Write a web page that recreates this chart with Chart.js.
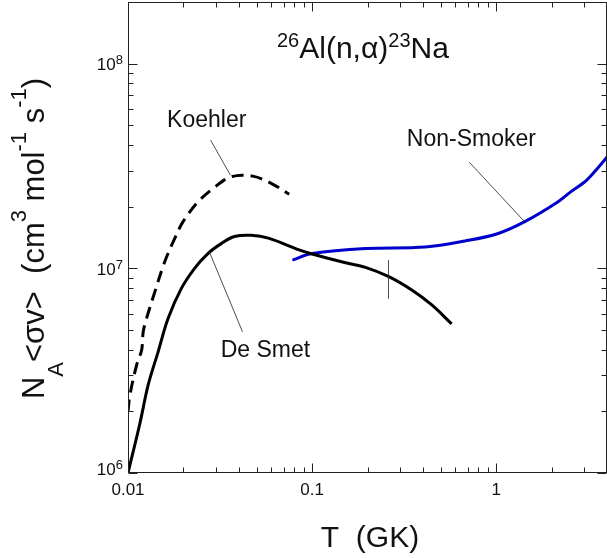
<!DOCTYPE html>
<html>
<head>
<meta charset="utf-8">
<script src="https://cdn.jsdelivr.net/npm/chart.js@4.4.1/dist/chart.umd.min.js"></script>
<style>
  html, body { margin: 0; padding: 0; background: #fff; overflow: hidden; }
  canvas { display: block; }
</style>
</head>
<body>
<canvas id="rate" width="607" height="558"></canvas>
<script>
// 26Al(n,a)23Na rates (T in GK, rate in cm3 mol-1 s-1)
const deSmetT = [0.01, 0.01161, 0.01288, 0.01459, 0.01652, 0.0195, 0.0230, 0.02716, 0.03209, 0.03789, 0.0466, 0.0585, 0.085, 0.1, 0.152, 0.195, 0.261, 0.348, 0.447, 0.573];
const deSmetRate = [1.0e6, 1.75e6, 2.70e6, 3.92e6, 5.70e6, 7.98e6, 1.0e7, 1.18e7, 1.32e7, 1.43e7, 1.45e7, 1.40e7, 1.23e7, 1.175e7, 1.064e7, 1.01e7, 9.1e6, 7.83e6, 6.62e6, 5.35e6];

const koehlerT = [0.01, 0.01025, 0.01114, 0.01186, 0.0121, 0.01262, 0.014, 0.01585, 0.01795, 0.01991, 0.02399, 0.02891, 0.03635, 0.0476, 0.061, 0.0751];
const koehlerRate = [2.0e6, 2.41e6, 3.37e6, 3.99e6, 4.91e6, 5.70e6, 7.69e6, 1.08e7, 1.40e7, 1.69e7, 2.11e7, 2.45e7, 2.80e7, 2.82e7, 2.58e7, 2.3e7];

const nonSmokerT = [0.0782, 0.1, 0.195, 0.412, 0.678, 1.025, 1.43, 2.16, 2.55, 3.02, 3.42, 3.87, 4.0];
const nonSmokerRate = [1.097e7, 1.18e7, 1.25e7, 1.27e7, 1.36e7, 1.48e7, 1.69e7, 2.11e7, 2.37e7, 2.64e7, 2.96e7, 3.37e7, 3.5e7];

const xTickValues = [0.01, 0.1, 1];
const xTickLabels = ['0.01', '0.1', '1'];
const yTickValues = [1e6, 1e7, 1e8];
const yTickExps = ['6', '7', '8'];

// curve labels and their leader lines, in data coordinates
const labelText = ['Koehler', 'De Smet', 'Non-Smoker'];
const labelT = [0.0163, 0.0319, 0.327];
const labelRate = [4.9e7, 3.69e6, 3.95e7];
const leaderFromT = [0.0281, 0.0277, 0.714];
const leaderFromRate = [4.23e7, 1.2e7, 3.3e7];
const leaderToT = [0.036, 0.0419, 1.435];
const leaderToRate = [2.85e7, 4.89e6, 1.68e7];
// short vertical bar on the De Smet curve
const markT = 0.258;
const markRate = [1.1e7, 7.1e6];

const FONT = '"Liberation Sans", Arial, Helvetica, sans-serif';

function pts(xs, ys) {
  return xs.map((x, i) => ({ x: x, y: ys[i] }));
}

// draws pieces of text with sizes / baseline shifts (for super/subscripts)
function richWidth(ctx, parts) {
  let w = 0;
  parts.forEach(p => {
    ctx.font = p.size + 'px ' + FONT;
    w += ctx.measureText(p.text).width;
  });
  return w;
}
function drawRich(ctx, parts, x, y) {
  let cx = x;
  parts.forEach(p => {
    ctx.font = p.size + 'px ' + FONT;
    ctx.fillText(p.text, cx, y + (p.dy || 0));
    cx += ctx.measureText(p.text).width;
  });
}

const framePlugin = {
  id: 'frame',
  afterDraw(chart) {
    const ctx = chart.ctx;
    const a = chart.chartArea;
    const xs = chart.scales.x;
    const ys = chart.scales.y;
    const L = Math.round(a.left) + 0.5, R = Math.round(a.right) - 0.5;
    const T = Math.round(a.top) + 0.5, B = Math.round(a.bottom) - 0.5;

    ctx.save();
    ctx.strokeStyle = '#222';
    ctx.lineWidth = 1;
    ctx.strokeRect(L, T, R - L, B - T);

    // inward ticks on all four sides
    ctx.beginPath();
    [0.01, 0.1, 1].forEach(d => {
      for (let k = 1; k <= 9; k++) {
        const v = k * d;
        if (v > xs.max) break;
        const px = Math.round(xs.getPixelForValue(v)) + 0.5;
        const len = k === 1 ? 9 : 5;
        ctx.moveTo(px, B); ctx.lineTo(px, B - len);
        ctx.moveTo(px, T); ctx.lineTo(px, T + len);
      }
    });
    [1e6, 1e7, 1e8].forEach(d => {
      for (let k = 1; k <= 9; k++) {
        const v = k * d;
        if (v > ys.max) break;
        const py = Math.round(ys.getPixelForValue(v)) + 0.5;
        const len = k === 1 ? 9 : 5;
        ctx.moveTo(L, py); ctx.lineTo(L + len, py);
        ctx.moveTo(R, py); ctx.lineTo(R - len, py);
      }
    });
    ctx.stroke();

    ctx.fillStyle = '#111';
    // x tick labels
    ctx.font = '17px ' + FONT;
    ctx.textAlign = 'center';
    ctx.textBaseline = 'alphabetic';
    xTickValues.forEach((v, i) => {
      ctx.fillText(xTickLabels[i], xs.getPixelForValue(v), a.bottom + 22);
    });
    // y tick labels 10^n
    ctx.textAlign = 'left';
    yTickValues.forEach((v, i) => {
      const parts = [{ text: '10', size: 17 }, { text: yTickExps[i], size: 13, dy: -6 }];
      const w = richWidth(ctx, parts);
      let py = ys.getPixelForValue(v) + 6.5;
      if (i === 0) py -= 5;
      drawRich(ctx, parts, a.left - 5 - w, py);
    });

    // reaction title
    const title = [
      { text: '26', size: 20, dy: -11 },
      { text: 'Al(n,\u03b1)', size: 30 },
      { text: '23', size: 20, dy: -11 },
      { text: 'Na', size: 30 }
    ];
    drawRich(ctx, title, 277, 58);

    // x axis title
    ctx.font = '30px ' + FONT;
    ctx.textAlign = 'center';
    ctx.fillText('T  (GK)', 370, 547);

    // y axis title, rotated
    ctx.textAlign = 'left';
    const yTitle = [
      { text: 'N', size: 31 },
      { text: 'A', size: 22, dy: 19 },
      { text: '<\u03c3v>  (cm', size: 31 },
      { text: '3', size: 22, dy: -18 },
      { text: ' mol', size: 31 },
      { text: '-1', size: 22, dy: -18 },
      { text: ' s', size: 31 },
      { text: '-1', size: 22, dy: -18 },
      { text: ')', size: 31 }
    ];
    const tw = richWidth(ctx, yTitle);
    ctx.save();
    ctx.translate(44, 238.5);
    ctx.rotate(-Math.PI / 2);
    drawRich(ctx, yTitle, -tw / 2, 0);
    ctx.restore();

    // curve labels + leader lines
    ctx.font = '23px ' + FONT;
    ctx.textAlign = 'left';
    labelText.forEach((t, i) => {
      ctx.fillText(t, xs.getPixelForValue(labelT[i]), ys.getPixelForValue(labelRate[i]));
    });
    ctx.beginPath();
    ctx.lineWidth = 0.8;
    labelText.forEach((t, i) => {
      ctx.moveTo(xs.getPixelForValue(leaderFromT[i]), ys.getPixelForValue(leaderFromRate[i]));
      ctx.lineTo(xs.getPixelForValue(leaderToT[i]), ys.getPixelForValue(leaderToRate[i]));
    });
    const mx = Math.round(xs.getPixelForValue(markT)) + 0.5;
    ctx.moveTo(mx, ys.getPixelForValue(markRate[0]));
    ctx.lineTo(mx, ys.getPixelForValue(markRate[1]));
    ctx.stroke();
    ctx.restore();
  }
};

new Chart(document.getElementById('rate'), {
  type: 'line',
  data: {
    datasets: [
      {
        label: 'De Smet',
        data: pts(deSmetT, deSmetRate),
        borderColor: '#000',
        borderWidth: 3
      },
      {
        label: 'Koehler',
        data: pts(koehlerT, koehlerRate),
        borderColor: '#000',
        borderWidth: 3,
        borderDash: [12, 7]
      },
      {
        label: 'Non-Smoker',
        data: pts(nonSmokerT, nonSmokerRate),
        borderColor: '#0000cc',
        borderWidth: 3
      }
    ]
  },
  options: {
    responsive: false,
    animation: false,
    events: [],
    layout: { padding: { left: 128, top: 2, right: -2, bottom: 85 } },
    elements: {
      point: { radius: 0 },
      line: { tension: 0.35, fill: false }
    },
    plugins: { legend: { display: false }, tooltip: { enabled: false } },
    scales: {
      x: { type: 'logarithmic', min: 0.01, max: 4, display: false },
      y: { type: 'logarithmic', min: 1e6, max: 2e8, display: false }
    }
  },
  plugins: [framePlugin]
});
</script>
</body>
</html>
